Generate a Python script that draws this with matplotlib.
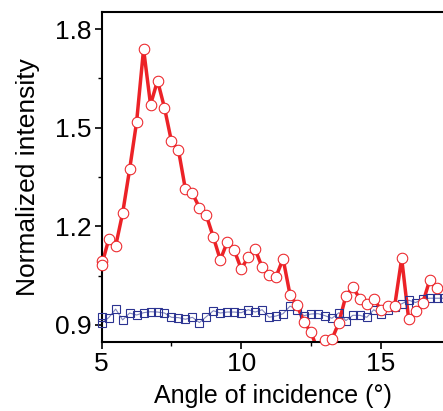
import numpy as np
import matplotlib
matplotlib.use("Agg")
import matplotlib.pyplot as plt
from matplotlib.ticker import MultipleLocator

plt.rcParams['font.family'] = ['Liberation Sans', 'DejaVu Sans']

# angle of incidence (deg)
red_angle = [5.0, 5.0, 5.25, 5.5, 5.75, 6.0, 6.25, 6.5, 6.75, 7.0, 7.25, 7.5, 7.75,
             8.0, 8.25, 8.5, 8.75, 9.0, 9.25, 9.5, 9.75, 10.0, 10.25, 10.5, 10.75,
             11.0, 11.25, 11.5, 11.75, 12.0, 12.25, 12.5, 12.75, 13.0, 13.25, 13.5,
             13.75, 14.0, 14.25, 14.5, 14.75, 15.0, 15.25, 15.5, 15.75, 16.0, 16.25,
             16.5, 16.75, 17.0]
red_intensity = [1.095, 1.082, 1.160, 1.140, 1.240, 1.373, 1.517, 1.739, 1.570, 1.643,
                 1.560, 1.458, 1.432, 1.312, 1.300, 1.257, 1.233, 1.167, 1.098, 1.152,
                 1.127, 1.070, 1.106, 1.130, 1.075, 1.052, 1.047, 1.101, 0.991, 0.960,
                 0.908, 0.878, 0.820, 0.855, 0.856, 0.907, 0.988, 1.014, 0.980, 0.963,
                 0.980, 0.946, 0.957, 0.958, 1.102, 0.918, 0.941, 0.965, 1.035, 1.013]

blue_angle = [5.0, 5.0, 5.25, 5.5, 5.75, 6.0, 6.25, 6.5, 6.75, 7.0, 7.25, 7.5, 7.75,
              8.0, 8.25, 8.5, 8.75, 9.0, 9.25, 9.5, 9.75, 10.0, 10.25, 10.5, 10.75,
              11.0, 11.25, 11.5, 11.75, 12.0, 12.25, 12.5, 12.75, 13.0, 13.25, 13.5,
              13.75, 14.0, 14.25, 14.5, 14.75, 15.0, 15.25, 15.5, 15.75, 16.0, 16.25,
              16.5, 16.75, 17.0, 17.25]
blue_intensity = [0.925, 0.905, 0.922, 0.948, 0.915, 0.936, 0.930, 0.937, 0.940, 0.939,
                  0.936, 0.923, 0.922, 0.917, 0.923, 0.907, 0.925, 0.943, 0.936, 0.939,
                  0.939, 0.937, 0.946, 0.939, 0.946, 0.923, 0.927, 0.934, 0.957, 0.946,
                  0.928, 0.933, 0.934, 0.928, 0.920, 0.937, 0.913, 0.929, 0.929, 0.923,
                  0.946, 0.932, 0.946, 0.955, 0.964, 0.975, 0.968, 0.978, 0.981, 0.981,
                  0.981]

red = '#ec2227'
blue = '#2b3391'
ylo, yhi = 0.847, 1.851

fig = plt.figure(figsize=(4.43, 4.11), dpi=100)
ax = fig.add_axes([0.2296, 0.1672, 0.7716, 0.803])

ax.plot(blue_angle, blue_intensity, '-', color=blue, lw=0.8, alpha=0.6)
ax.plot(blue_angle, blue_intensity, 's', ms=6, mfc='none', mec=blue, mew=0.8,
        clip_on=False, zorder=3)

ax.plot(red_angle, red_intensity, '-', color=red, lw=2.5)
ra = np.array(red_angle)
ri = np.array(red_intensity)
keep = ri >= ylo
ax.plot(ra[keep], ri[keep], 'o', ms=7.6, mfc='white', mec=red, mew=0.75,
        clip_on=False, zorder=4)

ax.set_xlim(5, 17.25)
ax.set_ylim(ylo, yhi)
ax.xaxis.set_major_locator(MultipleLocator(5))
ax.xaxis.set_minor_locator(MultipleLocator(2.5))
ax.yaxis.set_minor_locator(MultipleLocator(0.15))
ax.set_yticks([0.9, 1.2, 1.5, 1.8])
ax.set_yticklabels(['0.9', '1.2', '1.5', '1.8'])

for s in ['left', 'bottom', 'top']:
    ax.spines[s].set_linewidth(1.5)
ax.spines['right'].set_visible(False)

ax.tick_params(which='major', direction='out', length=5, width=1.2, labelsize=19, pad=2)
ax.tick_params(which='minor', direction='out', length=3, width=1.0)

ax.set_xlabel('Angle of incidence (°)', fontsize=18, labelpad=6)
ax.set_ylabel('Normalized intensity', fontsize=19, labelpad=11)

fig.savefig('out.png', dpi=100)
